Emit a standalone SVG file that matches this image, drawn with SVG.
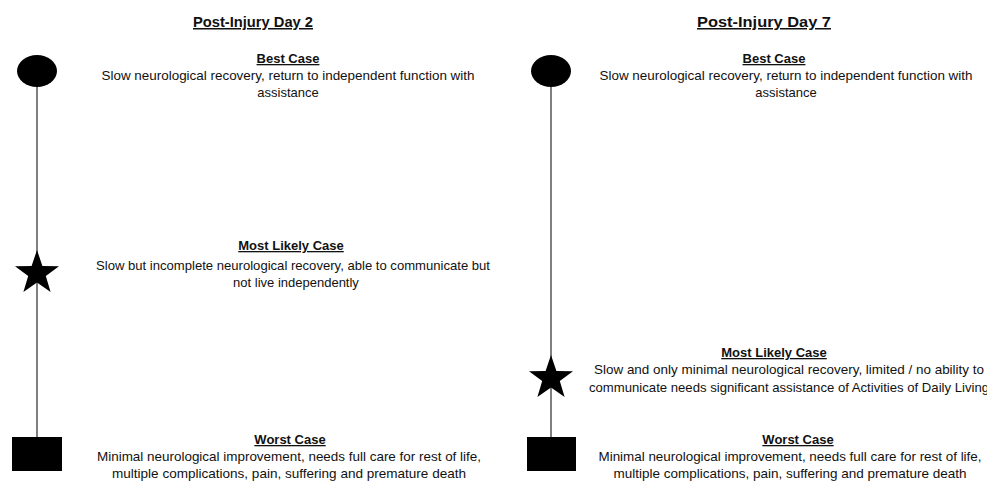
<svg xmlns="http://www.w3.org/2000/svg" width="987" height="482" viewBox="0 0 987 482">
<style>
.t{font-family:"Liberation Sans",Arial,sans-serif;font-size:13px;fill:#111;text-anchor:middle}
.h{font-weight:bold;text-decoration:underline}
.title{font-family:"Liberation Sans",Arial,sans-serif;font-size:15px;font-weight:bold;text-decoration:underline;fill:#111;text-anchor:middle}
.ln{stroke:#555;stroke-width:1.5;fill:none}
.s{fill:#000}
</style>
<rect width="987" height="482" fill="#fff"/>
<text class="title" x="253" y="27" textLength="120" lengthAdjust="spacingAndGlyphs">Post-Injury Day 2</text>
<text class="title" x="764" y="27" textLength="134" lengthAdjust="spacingAndGlyphs">Post-Injury Day 7</text>
<g id="connectors">
<line class="ln" x1="37" y1="86" x2="37" y2="437"/>
<line class="ln" x1="551" y1="86" x2="551" y2="437"/>
</g>
<g id="left-best">
<ellipse class="s" cx="37" cy="71" rx="20" ry="16"/>
<text class="t h" x="288" y="63">Best Case</text>
<text class="t" x="288" y="80" textLength="373" lengthAdjust="spacingAndGlyphs">Slow neurological recovery, return to independent function with</text>
<text class="t" x="288" y="97">assistance</text>
</g>
<g id="left-likely">
<polygon class="s" points="37,250 42.4,266 59,266.2 45.8,276 50.6,292 37,282.4 23.4,292 28.2,276 15,266.2 31.6,266"/>
<text class="t h" x="291" y="250">Most Likely Case</text>
<text class="t" x="293" y="270" textLength="394" lengthAdjust="spacingAndGlyphs">Slow but incomplete neurological recovery, able to communicate but</text>
<text class="t" x="296" y="287">not live independently</text>
</g>
<g id="left-worst">
<rect class="s" x="12" y="437" width="50" height="34"/>
<text class="t h" x="290" y="444">Worst Case</text>
<text class="t" x="289" y="461" textLength="384" lengthAdjust="spacingAndGlyphs">Minimal neurological improvement, needs full care for rest of life,</text>
<text class="t" x="289" y="478" textLength="354" lengthAdjust="spacingAndGlyphs">multiple complications, pain, suffering and premature death</text>
</g>
<g id="right-best">
<ellipse class="s" cx="551" cy="71" rx="20" ry="16"/>
<text class="t h" x="774" y="63">Best Case</text>
<text class="t" x="786" y="80" textLength="373" lengthAdjust="spacingAndGlyphs">Slow neurological recovery, return to independent function with</text>
<text class="t" x="786" y="97">assistance</text>
</g>
<g id="right-likely">
<polygon class="s" points="551,355 556.4,371 573,371.2 559.8,381 564.6,397 551,387.4 537.4,397 542.2,381 529,371.2 545.6,371"/>
<text class="t h" x="774" y="357">Most Likely Case</text>
<text class="t" x="789" y="374" textLength="390" lengthAdjust="spacingAndGlyphs">Slow and only minimal neurological recovery, limited / no ability to</text>
<text class="t" x="789" y="392" textLength="400" lengthAdjust="spacingAndGlyphs">communicate needs significant assistance of Activities of Daily Living</text>
</g>
<g id="right-worst">
<rect class="s" x="527" y="437" width="49" height="34"/>
<text class="t h" x="798" y="444">Worst Case</text>
<text class="t" x="790" y="461" textLength="383" lengthAdjust="spacingAndGlyphs">Minimal neurological improvement, needs full care for rest of life,</text>
<text class="t" x="790" y="478" textLength="353" lengthAdjust="spacingAndGlyphs">multiple complications, pain, suffering and premature death</text>
</g>
</svg>
